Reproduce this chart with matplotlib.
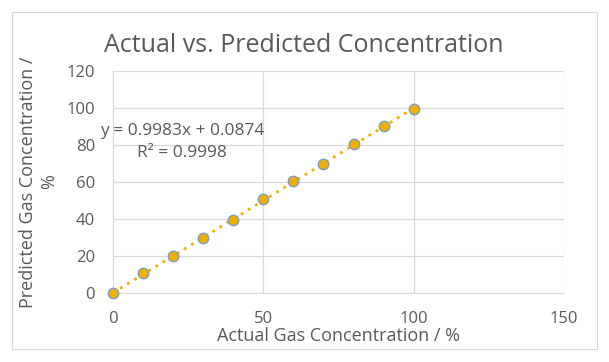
import matplotlib.pyplot as plt
import numpy as np
from matplotlib.patches import Rectangle

plt.rcParams['font.family'] = ['Open Sans', 'DejaVu Sans']

actual = [0, 10, 20, 30, 40, 50, 60, 70, 80, 90, 100]
predicted = [0, 10.8, 20.0, 29.7, 39.5, 50.8, 60.5, 69.7, 80.5, 90.3, 99.5]
slope = 0.9983
intercept = 0.0874

grey = '#595959'
W, H = 609, 362
fig = plt.figure(figsize=(W / 100, H / 100), dpi=100)
fig.patches.append(Rectangle((12 / W, 1 - 349 / H), 585 / W, 337 / H,
                             transform=fig.transFigure, fill=False,
                             edgecolor='#d9d9d9', linewidth=0.8))

ax = fig.add_axes([113 / W, 1 - 293 / H, (564 - 113) / W, (293 - 71) / H])
ax.set_xlim(0, 150)
ax.set_ylim(0, 120)
ax.set_xticks([0, 50, 100, 150])
ax.set_yticks(np.arange(0, 121, 20))
ax.grid(True, color='#d9d9d9', linewidth=0.9)
ax.set_axisbelow(True)
for s in ['top', 'right']:
    ax.spines[s].set_visible(False)
ax.spines['left'].set_color('#d9d9d9')
ax.spines['bottom'].set_color('#d9d9d9')
ax.tick_params(length=0, labelsize=12, colors=grey)
ax.tick_params(axis='x', pad=13)
ax.tick_params(axis='y', pad=13)

xt = np.array([0, 100])
ax.plot(xt, slope * xt + intercept, linestyle=(0, (1, 2)), color='#f0b000',
        linewidth=2, zorder=2)
ax.plot(actual, predicted, 'o', markersize=7.5, markerfacecolor='#f0b000',
        markeredgecolor='#7a9cc6', markeredgewidth=1, zorder=3, clip_on=False)

fig.text(100 / W, 1 - 131 / H, 'y = 0.9983x + 0.0874', fontsize=12.5, color=grey,
         va='center', ha='left')
fig.text(137 / W, 1 - 153 / H, 'R² = 0.9998', fontsize=12.5, color=grey,
         va='center', ha='left')

fig.text(304 / W, 1 - 45 / H, 'Actual vs. Predicted Concentration', fontsize=18,
         color=grey, ha='center', va='center')
ax.set_xlabel('Actual Gas Concentration / %', fontsize=13, color=grey, labelpad=0)
ax.set_ylabel('Predicted Gas Concentration /\n%', fontsize=13, color=grey,
              labelpad=6, linespacing=1.2)

fig.savefig('out.png', dpi=100)
